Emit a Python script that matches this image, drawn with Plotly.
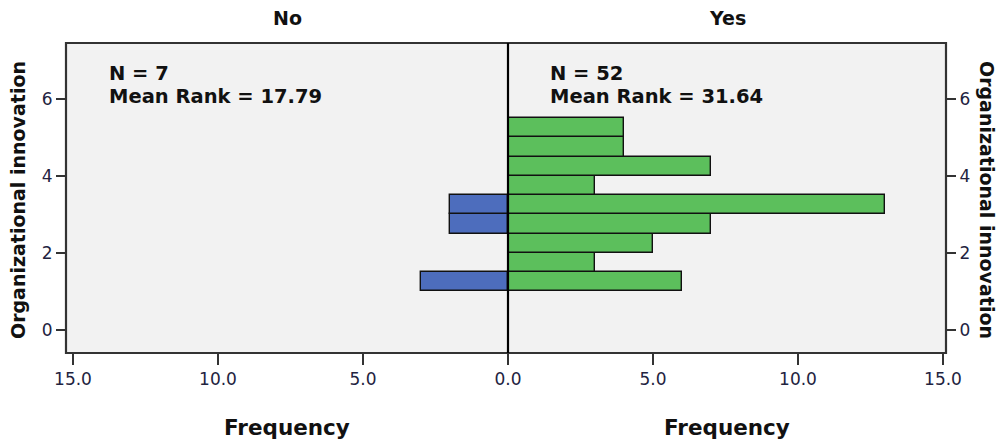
import plotly.graph_objects as go

# Histogram bins of "Organizational innovation" (lower edges, width 0.5)
bin_lower = [1.0, 1.5, 2.0, 2.5, 3.0, 3.5, 4.0, 4.5, 5.0]
bin_width = 0.5
no_counts = [3, 0, 0, 2, 2, 0, 0, 0, 0]
yes_counts = [6, 3, 5, 7, 13, 3, 7, 4, 4]

groups = ["No", "Yes"]
group_n = [7, 52]
mean_rank = [17.79, 31.64]

x_ticks = [0, 5, 10, 15]
y_ticks = [0, 2, 4, 6]

BLUE = "#4d6dbd"
GREEN = "#5cbf5c"
FONT = "DejaVu Sans"
TICK_COLOR = "#23233f"


def nonzero(counts):
    ys = [b + bin_width / 2 for b, c in zip(bin_lower, counts) if c > 0]
    xs = [c for c in counts if c > 0]
    return xs, ys


fig = go.Figure()

xs, ys = nonzero(no_counts)
fig.add_trace(go.Bar(
    x=xs, y=ys, orientation="h", width=bin_width,
    marker=dict(color=BLUE, line=dict(color="#111111", width=1.4)),
    xaxis="x", yaxis="y", showlegend=False, hoverinfo="skip",
))

xs, ys = nonzero(yes_counts)
fig.add_trace(go.Bar(
    x=xs, y=ys, orientation="h", width=bin_width,
    marker=dict(color=GREEN, line=dict(color="#111111", width=1.4)),
    xaxis="x2", yaxis="y2", showlegend=False, hoverinfo="skip",
))

split = 442 / 880
tick_font = dict(family=FONT, size=17, color=TICK_COLOR)
common_x = dict(
    showgrid=False, zeroline=False, showline=False,
    ticks="outside", ticklen=11, tickwidth=1.5, tickcolor="#333333",
    tickfont=tick_font, tickformat=".1f",
)
common_y = dict(
    range=[-0.6, 7.45], showgrid=False, zeroline=False, showline=False,
    ticks="outside", ticklen=9, tickwidth=1.5, tickcolor="#333333",
    tickfont=tick_font, tickvals=y_ticks,
)

fig.update_layout(
    width=1001, height=441,
    margin=dict(l=66, r=55, t=43, b=88),
    paper_bgcolor="white", plot_bgcolor="#f2f2f2",
    bargap=0,
    font=dict(family=FONT, color="#111111"),
    xaxis=dict(domain=[0, split], range=[442 / 29, 0], tickvals=x_ticks[1:],
               anchor="y", **common_x),
    xaxis2=dict(domain=[split, 1], range=[0, 438 / 29], tickvals=x_ticks,
                anchor="y2", **common_x),
    yaxis=dict(anchor="x", side="left", **common_y),
    yaxis2=dict(anchor="x2", side="right", matches="y", **common_y),
)

# Panel frame and the shared zero line between the two panels
fig.add_shape(type="rect", xref="paper", yref="paper", x0=0, x1=1, y0=0, y1=1,
              line=dict(color="#333333", width=2.2), layer="above")
fig.add_shape(type="line", xref="paper", yref="paper", x0=split, x1=split,
              y0=0, y1=1, line=dict(color="#000000", width=2.2), layer="above")

title_font = dict(family=FONT, size=19, color="#111111")
stat_font = dict(family=FONT, size=19.5, color="#111111")
panel_centers = [split / 2, split + (1 - split) / 2]
text_left = [41 / 880, 482 / 880]

for name, cx, tx, n, mr in zip(groups, panel_centers, text_left, group_n, mean_rank):
    fig.add_annotation(text=f"<b>{name}</b>", xref="paper", yref="paper",
                       x=cx, y=1, yshift=25, showarrow=False, font=title_font,
                       xanchor="center", yanchor="middle")
    fig.add_annotation(text="<b>Frequency</b>", xref="paper", yref="paper",
                       x=cx, y=0, yshift=-74, showarrow=False,
                       font=dict(family=FONT, size=21.5, color="#111111"),
                       xanchor="center", yanchor="middle")
    fig.add_annotation(text=f"<b>N = {n}</b>", xref="paper", yref="paper",
                       x=tx, y=1, yshift=-30, xanchor="left", yanchor="middle",
                       showarrow=False, font=stat_font)
    fig.add_annotation(text=f"<b>Mean Rank = {mr:.2f}</b>", xref="paper",
                       yref="paper", x=tx, y=1, yshift=-53, xanchor="left",
                       yanchor="middle", showarrow=False, font=stat_font)

# Y-axis titles on both sides
fig.add_annotation(text="<b>Organizational innovation</b>", xref="paper",
                   yref="paper", x=0, xshift=-48, y=0.5, yshift=-2,
                   textangle=-90, showarrow=False, font=title_font,
                   xanchor="center", yanchor="middle")
fig.add_annotation(text="<b>Organizational innovation</b>", xref="paper",
                   yref="paper", x=1, xshift=41, y=0.5, yshift=-2,
                   textangle=90, showarrow=False, font=title_font,
                   xanchor="center", yanchor="middle")

fig.write_html("out.html")
